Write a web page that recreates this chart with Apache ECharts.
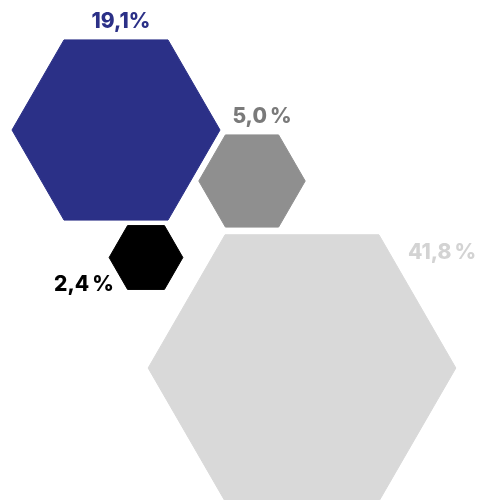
<!DOCTYPE html>
<html><head><meta charset="utf-8">
<script src="https://cdn.jsdelivr.net/npm/echarts@6/dist/echarts.min.js"></script>
<style>html,body{margin:0;padding:0;background:#fff}#c{width:479px;height:500px}</style>
</head><body><div id="c"></div>
<script>
const shares = [19.1, 5.0, 2.4, 41.8];
const labels = ['19,1%', '5,0\u202F%', '2,4\u202F%', '41,8\u202F%'];
const centerX = [116, 252, 146, 302];
const centerY = [130, 181, 257.5, 368];
const colors = ['#2b3087', '#8f8f8f', '#000000', '#d9d9d9'];
const labelColors = ['#2b3087', '#7a7a7a', '#000000', '#d3d3d3'];
const labelPlace = ['top', 'topRight', 'bottomLeft', 'right'];

const chart = echarts.init(document.getElementById('c'));
const K = 23.8;
chart.setOption({
  animation: false,
  grid: {left: 0, right: 0, top: 0, bottom: 0},
  xAxis: {type: 'value', min: 0, max: 479, show: false},
  yAxis: {type: 'value', min: 0, max: 500, inverse: true, show: false},
  series: [{
    type: 'custom',
    data: shares.map((v, i) => [centerX[i], centerY[i], v]),
    renderItem: function (params, api) {
      const i = params.dataIndex;
      const c = api.coord([api.value(0), api.value(1)]);
      const r = api.size([Math.sqrt(api.value(2)) * K, 0])[0];
      const h = r * Math.sqrt(3) / 2;
      const pts = [];
      for (let k = 0; k < 6; k++) {
        const a = Math.PI / 3 * k;
        pts.push([c[0] + r * Math.cos(a), c[1] + r * Math.sin(a)]);
      }
      let tx, ty;
      const p = labelPlace[i];
      if (p === 'top') { tx = c[0] + 5; ty = c[1] - h - 8; }
      else if (p === 'topRight') { tx = c[0] + 10; ty = c[1] - h - 8; }
      else if (p === 'bottomLeft') { tx = c[0] - 62; ty = c[1] + 38; }
      else { tx = c[0] + 140; ty = c[1] - h + 28; }
      return {
        type: 'group',
        children: [
          {type: 'polygon', shape: {points: pts}, style: {fill: colors[i], lineJoin: 'round', stroke: colors[i], lineWidth: 1}},
          {type: 'text', style: {x: tx, y: ty, text: labels[i], fill: labelColors[i], font: '800 21px Inter, "Noto Sans", sans-serif', align: 'center', verticalAlign: 'bottom'}}
        ]
      };
    }
  }]
});
</script></body></html>
